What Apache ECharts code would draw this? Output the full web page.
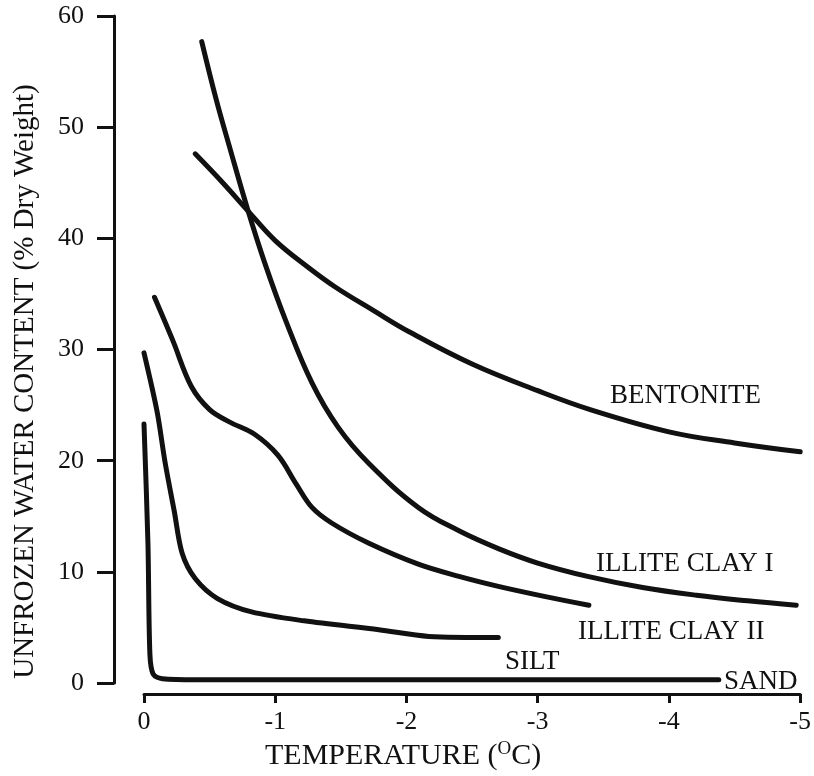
<!DOCTYPE html>
<html>
<head>
<meta charset="utf-8">
<script src="https://cdn.jsdelivr.net/npm/echarts@6/dist/echarts.min.js"></script>
<style>
html,body{margin:0;padding:0;background:#fff;}
#chart{width:814px;height:776px;}
</style>
</head>
<body>
<div id="chart"></div>
<script>
// Temperature (°C) / unfrozen water content (% dry weight) pairs
const bentoniteT = [-0.39, -0.6, -0.79, -1.0, -1.25, -1.46, -1.75, -2.02, -2.5, -3.0, -3.4, -4.0, -4.5, -5.0];
const bentoniteW = [47.6, 45.0, 42.5, 39.8, 37.4, 35.6, 33.5, 31.6, 28.7, 26.3, 24.6, 22.6, 21.6, 20.8];

const illite1T = [-0.44, -0.55, -0.65, -0.79, -0.92, -1.08, -1.28, -1.48, -1.71, -2.09, -2.4, -2.7, -3.0, -3.38, -3.8, -4.21, -4.6, -4.97];
const illite1W = [57.7, 52.5, 48.3, 42.6, 37.8, 32.6, 27.0, 23.0, 19.8, 15.8, 13.7, 12.1, 10.8, 9.6, 8.6, 7.9, 7.4, 7.0];

const illite2T = [-0.08, -0.22, -0.36, -0.5, -0.65, -0.84, -1.02, -1.16, -1.28, -1.43, -1.71, -2.09, -2.4, -2.7, -3.05, -3.39];
const illite2W = [34.7, 30.8, 26.7, 24.6, 23.5, 22.4, 20.5, 17.9, 15.8, 14.4, 12.6, 10.7, 9.6, 8.7, 7.8, 7.0];

const siltT = [0.0, -0.1, -0.16, -0.23, -0.29, -0.39, -0.56, -0.82, -1.22, -1.79, -2.17, -2.7];
const siltW = [29.7, 24.4, 19.9, 15.5, 11.7, 9.4, 7.6, 6.4, 5.6, 4.8, 4.2, 4.1];

const sandT = [0.0, -0.03, -0.045, -0.07, -0.14, -0.4, -1.5, -3.0, -4.38];
const sandW = [23.3, 12.6, 2.6, 0.8, 0.4, 0.3, 0.3, 0.3, 0.3];

const seriesNames = ['BENTONITE', 'ILLITE CLAY I', 'ILLITE CLAY II', 'SILT', 'SAND'];
const xTicks = [0, -1, -2, -3, -4, -5];
const yTicks = [0, 10, 20, 30, 40, 50, 60];

function pairs(xs, ys) { return xs.map((x, i) => [x, ys[i]]); }

const chart = echarts.init(document.getElementById('chart'), null, {renderer: 'canvas'});
const FONT = '"Liberation Serif", "Times New Roman", serif';
const INK = '#111';

function lineSeries(name, data, smooth) {
  return {
    name: name, type: 'line', data: data, showSymbol: false, symbol: 'none',
    smooth: smooth,
    lineStyle: {color: INK, width: 5, cap: 'round', join: 'round'},
    silent: true, animation: false
  };
}

const labelStyle = {fontFamily: FONT, fontSize: 27, fill: INK};

chart.setOption({
  backgroundColor: '#fff',
  animation: false,
  grid: {left: 144, right: 10, top: 16, bottom: 80, containLabel: false},
  xAxis: {
    type: 'value', min: -5, max: 0, interval: 1, inverse: true, offset: 11,
    axisLine: {show: true, onZero: false, lineStyle: {color: INK, width: 3}},
    axisTick: {show: true, length: 9, lineStyle: {color: INK, width: 3}},
    axisLabel: {color: INK, fontFamily: FONT, fontSize: 26, margin: 15,
      formatter: v => xTicks.includes(v) ? String(v) : ''},
    splitLine: {show: false},
    name: '{a|TEMPERATURE (}{s|O}{a|C)}',
    nameLocation: 'middle', nameGap: 40,
    nameTextStyle: {color: INK, fontFamily: FONT, padding: [0, 138, 0, 0],
      rich: {a: {fontFamily: FONT, fontSize: 30, color: INK},
             s: {fontFamily: FONT, fontSize: 19, color: INK, padding: [0, 0, 13, 0]}}}
  },
  yAxis: {
    type: 'value', min: 0, max: 60, interval: 10, offset: 30,
    axisLine: {show: true, onZero: false, lineStyle: {color: INK, width: 3}},
    axisTick: {show: true, length: 17, lineStyle: {color: INK, width: 3}},
    axisLabel: {color: INK, fontFamily: FONT, fontSize: 26, margin: 30,
      formatter: v => yTicks.includes(v) ? String(v) : ''},
    splitLine: {show: false},
    name: 'UNFROZEN WATER CONTENT (% Dry Weight)',
    nameLocation: 'middle', nameGap: 74, nameRotate: 90,
    nameTextStyle: {color: INK, fontFamily: FONT, fontSize: 29, padding: [0, 64, 0, 0]}
  },
  series: [
    lineSeries(seriesNames[0], pairs(bentoniteT, bentoniteW), 0.4),
    lineSeries(seriesNames[1], pairs(illite1T, illite1W), 0.4),
    lineSeries(seriesNames[2], pairs(illite2T, illite2W), 0.35),
    lineSeries(seriesNames[3], pairs(siltT, siltW), 0.3),
    lineSeries(seriesNames[4], pairs(sandT, sandW), 0.3)
  ],
  graphic: [
    {type: 'text', left: 610, top: 382, style: Object.assign({text: seriesNames[0]}, labelStyle)},
    {type: 'text', left: 596, top: 550, style: Object.assign({text: seriesNames[1]}, labelStyle)},
    {type: 'text', left: 578, top: 618, style: Object.assign({text: seriesNames[2]}, labelStyle)},
    {type: 'text', left: 505, top: 648, style: Object.assign({text: seriesNames[3]}, labelStyle)},
    {type: 'text', left: 724, top: 668, style: Object.assign({text: seriesNames[4]}, labelStyle)}
  ]
});
</script>
</body>
</html>
